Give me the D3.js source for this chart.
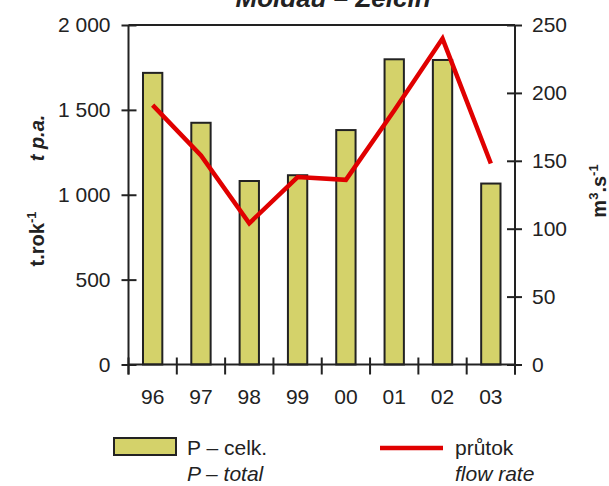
<!DOCTYPE html>
<html>
<head>
<meta charset="utf-8">
<script src="https://cdn.jsdelivr.net/npm/d3@7"></script>
<style>
  html, body { margin: 0; padding: 0; background: #fff; }
  svg { display: block; font-family: "Liberation Sans", Arial, sans-serif; }
</style>
</head>
<body>
<svg id="chart" width="609" height="486"></svg>
<script>
// Annual phosphorus load and mean flow, Moldau at Zelčín
const years = ["96", "97", "98", "99", "00", "01", "02", "03"];
const pTotal = [1718, 1424, 1081, 1115, 1381, 1798, 1794, 1066];   // t per year
const flowRate = [191, 154, 104, 138, 136, 187, 240, 148];          // m3/s
const leftTicks = [0, 500, 1000, 1500, 2000];
const rightTicks = [0, 50, 100, 150, 200, 250];

const svg = d3.select("#chart");
const L = 128.5, R = 515, T = 25, B = 364.5;
const ink = "#222";

const x = d3.scaleBand().domain(years).range([L, R]).paddingInner(0.6).paddingOuter(0.3);
const yL = d3.scaleLinear().domain([0, 2000]).range([B, T]);
const yR = d3.scaleLinear().domain([0, 250]).range([B, T]);

// thousands separated by a space: "1 500"
const fmtThousands = d => d3.format(",")(d).replace(/,/g, " ");

// bars
svg.append("g").selectAll("rect").data(years).join("rect")
  .attr("x", d => x(d))
  .attr("width", x.bandwidth())
  .attr("y", (d, i) => yL(pTotal[i]))
  .attr("height", (d, i) => B - yL(pTotal[i]))
  .attr("fill", "#d4d26a")
  .attr("stroke", ink)
  .attr("stroke-width", 2);

// frame: top line and bottom axis line
const frame = svg.append("g").attr("stroke", ink).attr("stroke-width", 2).attr("fill", "none");
frame.append("line").attr("x1", L).attr("x2", R).attr("y1", T).attr("y2", T);
frame.append("line").attr("x1", L).attr("x2", R).attr("y1", B).attr("y2", B);

// left axis
const axL = svg.append("g").attr("transform", `translate(${L},0)`)
  .call(d3.axisLeft(yL).tickValues(leftTicks).tickSize(7).tickPadding(11)
    .tickFormat(fmtThousands));
axL.select(".domain").remove();
axL.append("line").attr("y1", T).attr("y2", B + 10).attr("stroke", ink).attr("stroke-width", 2);
axL.selectAll(".tick line").attr("x1", 8).attr("x2", -7).attr("stroke", ink).attr("stroke-width", 2);
axL.selectAll(".tick text").attr("font-size", 21).attr("fill", ink).attr("font-family", "Liberation Sans, Arial, sans-serif");

// right axis
const axR = svg.append("g").attr("transform", `translate(${R},0)`)
  .call(d3.axisRight(yR).tickValues(rightTicks).tickSize(7).tickPadding(10));
axR.select(".domain").remove();
axR.append("line").attr("y1", T).attr("y2", B + 10).attr("stroke", ink).attr("stroke-width", 2);
axR.selectAll(".tick line").attr("x1", -8).attr("x2", 7).attr("stroke", ink).attr("stroke-width", 2);
axR.selectAll(".tick text").attr("font-size", 21).attr("fill", ink).attr("font-family", "Liberation Sans, Arial, sans-serif");

// bottom axis: ticks at category boundaries, labels centred on bars
const bounds = years.map(d => x(d) + x.bandwidth() / 2 - x.step() / 2);
bounds.push(R);
svg.append("g").selectAll("line").data(bounds).join("line")
  .attr("x1", d => d).attr("x2", d => d)
  .attr("y1", B - 7).attr("y2", B + 10)
  .attr("stroke", ink).attr("stroke-width", 2);
svg.append("g").selectAll("text").data(years).join("text")
  .attr("x", d => x(d) + x.bandwidth() / 2)
  .attr("y", 404)
  .attr("text-anchor", "middle")
  .attr("font-size", 21)
  .attr("fill", ink)
  .text(d => d);

// flow rate line
const line = d3.line()
  .x((d, i) => x(years[i]) + x.bandwidth() / 2)
  .y(d => yR(d));
svg.append("path").datum(flowRate)
  .attr("d", line)
  .attr("fill", "none")
  .attr("stroke", "#e00000")
  .attr("stroke-width", 4.5)
  .attr("stroke-linejoin", "miter");

// title
svg.append("text")
  .attr("x", 333).attr("y", 7)
  .attr("text-anchor", "middle")
  .attr("font-size", 26).attr("font-weight", "bold").attr("font-style", "italic")
  .attr("fill", ink)
  .text("Moldau – Zelčín");

// axis titles
const lt = svg.append("text")
  .attr("transform", "translate(44,239) rotate(-90)")
  .attr("text-anchor", "middle")
  .attr("font-size", 20).attr("font-weight", "bold").attr("fill", ink);
lt.append("tspan").text("t.rok");
lt.append("tspan").attr("font-size", 13).attr("dy", -8).text("-1");

svg.append("text")
  .attr("transform", "translate(44,138) rotate(-90)")
  .attr("text-anchor", "middle")
  .attr("font-size", 20).attr("font-weight", "bold").attr("font-style", "italic").attr("fill", ink)
  .text("t p.a.");

const rt = svg.append("text")
  .attr("transform", "translate(606,191) rotate(-90)")
  .attr("text-anchor", "middle")
  .attr("font-size", 20).attr("font-weight", "bold").attr("fill", ink);
rt.append("tspan").text("m");
rt.append("tspan").attr("font-size", 13).attr("dy", -8).text("3");
rt.append("tspan").attr("dy", 8).text(".s");
rt.append("tspan").attr("font-size", 13).attr("dy", -8).text("-1");

// legend
const lg = svg.append("g").attr("fill", ink).attr("font-size", 21);
lg.append("rect").attr("x", 114).attr("y", 438).attr("width", 62).attr("height", 17)
  .attr("fill", "#d4d26a").attr("stroke", ink).attr("stroke-width", 2);
lg.append("text").attr("x", 187).attr("y", 455).text("P – celk.");
lg.append("text").attr("x", 187).attr("y", 481).attr("font-style", "italic").text("P – total");
lg.append("line").attr("x1", 380).attr("x2", 443).attr("y1", 448).attr("y2", 448)
  .attr("stroke", "#e00000").attr("stroke-width", 4.5);
lg.append("text").attr("x", 455).attr("y", 455).text("průtok");
lg.append("text").attr("x", 455).attr("y", 481).attr("font-style", "italic").text("flow rate");
</script>
</body>
</html>
